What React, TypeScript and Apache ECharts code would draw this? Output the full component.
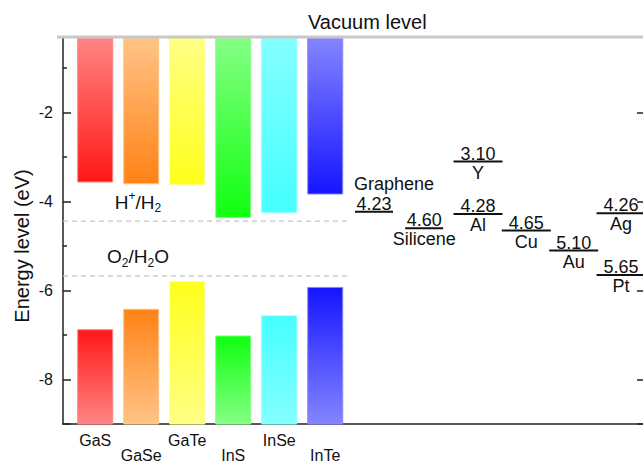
import React, { useEffect, useRef } from 'react';
import * as echarts from 'echarts';

// ---- data ----
const semiconductors = ['GaS', 'GaSe', 'GaTe', 'InS', 'InSe', 'InTe'];
const semiSlots = [1, 2, 3, 4, 5, 6];
const cbm = [-3.56, -3.6, -3.62, -4.36, -4.24, -3.83];
const vbm = [-6.88, -6.42, -5.8, -7.02, -6.57, -5.93];

const metals = ['Graphene', 'Silicene', 'Y', 'Al', 'Cu', 'Au', 'Ag', 'Pt'];
const workFunctions = [4.23, 4.6, 3.1, 4.28, 4.65, 5.1, 4.26, 5.65];
const metalSlots = [7.06, 8.15, 9.32, 9.32, 10.37, 11.4, 12.43, 12.43];

const redoxNames = ['H+/H2', 'O2/H2O'];
const redoxLevels = [-4.44, -5.67];
const redoxEndSlot = 6.5;
const redoxLabelSlot = 1.93;

const vacuumLevel = -0.3; // top of the energy axis
const bottomLevel = -9;
const xMin = 0.3;
const xMax = 12.95;

// ---- styles ----
const FONT = '"Liberation Sans", Arial, Helvetica, sans-serif';
const barColors: [string, string][] = [
  ['#ff1717', '#ff8585'],
  ['#ff8216', '#ffc487'],
  ['#ffff1c', '#ffff85'],
  ['#10ff10', '#85ff85'],
  ['#45ffff', '#85ffff'],
  ['#1515ff', '#8585ff'],
];
const narrowMetals = ['Graphene', 'Silicene'];

export default function App() {
  const ref = useRef<HTMLDivElement>(null);

  useEffect(() => {
    if (!ref.current) return;
    const chart = echarts.init(ref.current, undefined, { renderer: 'svg' });

    const bandSeries = {
      type: 'custom',
      z: 2,
      renderItem: (params: any, api: any) => {
        const i = params.dataIndex;
        const x = api.value(0);
        const c = api.value(1);
        const v = api.value(2);
        const [cx, yTop] = api.coord([x, vacuumLevel]);
        const yC = api.coord([x, c])[1];
        const yV = api.coord([x, v])[1];
        const yB = api.coord([x, bottomLevel])[1];
        const w = 35;
        const [sat, light] = barColors[i];
        return {
          type: 'group',
          children: [
            {
              type: 'rect',
              shape: { x: cx - w / 2, y: yTop, width: w, height: yC - yTop },
              style: {
                fill: new echarts.graphic.LinearGradient(0, 0, 0, 1, [
                  { offset: 0, color: light },
                  { offset: 1, color: sat },
                ]),
                stroke: light,
                lineWidth: 1,
              },
            },
            {
              type: 'rect',
              shape: { x: cx - w / 2, y: yV, width: w, height: yB - yV },
              style: {
                fill: new echarts.graphic.LinearGradient(0, 0, 0, 1, [
                  { offset: 0, color: sat },
                  { offset: 1, color: light },
                ]),
                stroke: light,
                lineWidth: 1,
              },
            },
            {
              type: 'text',
              x: cx,
              y: yB + (i % 2 === 0 ? 16 : 31),
              style: {
                text: semiconductors[i],
                align: 'center',
                verticalAlign: 'middle',
                fontSize: 16,
                fontFamily: FONT,
                fill: '#111',
              },
            },
          ],
        };
      },
      data: semiconductors.map((_, i) => [semiSlots[i], cbm[i], vbm[i]]),
      encode: { x: 0, y: [1, 2] },
    };

    const metalSeries = {
      type: 'custom',
      z: 3,
      renderItem: (params: any, api: any) => {
        const i = params.dataIndex;
        const x = api.value(0);
        const wf = api.value(1);
        const [cx, cy] = api.coord([x, -wf]);
        const name = metals[i];
        const half = narrowMetals.includes(name) ? 19 : 24.5;
        const nameAbove = name === 'Graphene';
        const ts = { fontSize: 18, fontFamily: FONT, fill: '#111', align: 'center', verticalAlign: 'middle' };
        return {
          type: 'group',
          children: [
            {
              type: 'line',
              shape: { x1: cx - half, y1: cy, x2: cx + half, y2: cy },
              style: { stroke: '#111', lineWidth: 2 },
            },
            { type: 'text', x: cx, y: cy - 8, style: { ...ts, text: wf.toFixed(2) } },
            {
              type: 'text',
              x: nameAbove ? cx + 20 : cx,
              y: nameAbove ? cy - 28 : cy + 11,
              style: { ...ts, text: name },
            },
          ],
        };
      },
      data: metals.map((_, i) => [metalSlots[i], workFunctions[i]]),
      encode: { x: 0, y: 1 },
    };

    const redoxRich = [
      '{n|H}{sup|+}{n|/H}{sub|2}',
      '{n|O}{sub|2}{n|/H}{sub|2}{n|O}',
    ];
    const redoxSeries = {
      type: 'custom',
      z: 1,
      renderItem: (params: any, api: any) => {
        const i = params.dataIndex;
        const lv = api.value(1);
        const [x0, y0] = api.coord([xMin, lv]);
        const x1 = api.coord([redoxEndSlot, lv])[0];
        const lx = api.coord([redoxLabelSlot, lv])[0];
        return {
          type: 'group',
          children: [
            {
              type: 'line',
              shape: { x1: x0, y1: y0, x2: x1, y2: y0 },
              style: { stroke: '#c4c4c4', lineWidth: 1.3, lineDash: [5, 4] },
            },
            {
              type: 'text',
              x: lx,
              y: y0 - 19,
              style: {
                text: redoxRich[i],
                align: 'center',
                verticalAlign: 'middle',
                fontFamily: FONT,
                fill: '#111',
                rich: {
                  n: { fontSize: 19, lineHeight: 24, fontFamily: FONT, fill: '#111' },
                  sup: { fontSize: 12, lineHeight: 24, verticalAlign: 'top', fontFamily: FONT, fill: '#111' },
                  sub: { fontSize: 12, lineHeight: 24, verticalAlign: 'bottom', fontFamily: FONT, fill: '#111' },
                },
              },
            },
          ],
        };
      },
      data: redoxNames.map((_, i) => [i, redoxLevels[i]]),
      encode: { x: 0, y: 1 },
    };

    const vacuumSeries = {
      type: 'custom',
      z: 6,
      renderItem: (_params: any, api: any) => {
        const lv = api.value(0);
        const [xa, ya] = api.coord([xMin, lv]);
        const xb = api.coord([xMax, lv])[0];
        return {
          type: 'line',
          shape: { x1: xa - 6, y1: ya, x2: xb, y2: ya },
          style: { stroke: '#c8c8c8', lineWidth: 3 },
        };
      },
      data: [[vacuumLevel]],
      encode: { y: 0 },
    };

    const yAxisBase = {
      type: 'value',
      min: bottomLevel,
      max: vacuumLevel,
      splitLine: { show: false },
    };

    chart.setOption({
      animation: false,
      textStyle: { fontFamily: FONT },
      graphic: [
        {
          type: 'text',
          left: 308,
          top: 12,
          style: { text: 'Vacuum level', fontSize: 20, fontFamily: FONT, fill: '#111' },
        },
        {
          type: 'text',
          x: 22,
          y: 246,
          rotation: Math.PI / 2,
          style: {
            text: 'Energy level (eV)',
            fontSize: 20,
            fontFamily: FONT,
            fill: '#111',
            align: 'center',
            verticalAlign: 'middle',
          },
        },
      ],
      grid: { left: 63, right: 15, top: 37, bottom: 38 },
      xAxis: {
        type: 'value',
        min: xMin,
        max: xMax,
        axisLine: { show: true, onZero: false, lineStyle: { color: '#222', width: 1.5 } },
        axisTick: { show: false },
        axisLabel: { show: false },
        splitLine: { show: false },
      },
      yAxis: [
        {
          ...yAxisBase,
          position: 'left',
          axisLine: { show: true, lineStyle: { color: '#222', width: 1.5 } },
          axisTick: { show: true, inside: true, length: 8, lineStyle: { color: '#222', width: 1.5 } },
          minorTick: { show: true, splitNumber: 2, length: 4, lineStyle: { color: '#222', width: 1.5 } },
          axisLabel: {
            show: true,
            fontSize: 16,
            color: '#111',
            margin: 10,
            showMinLabel: false,
            showMaxLabel: false,
            fontFamily: FONT,
          },
        },
        {
          ...yAxisBase,
          position: 'right',
          axisLine: { show: true, lineStyle: { color: '#222', width: 1.5 } },
          axisTick: { show: true, inside: true, length: 8, lineStyle: { color: '#222', width: 1.5 } },
          axisLabel: { show: false },
        },
      ],
      series: [redoxSeries, bandSeries, metalSeries, vacuumSeries],
    });

    return () => chart.dispose();
  }, []);

  return (
    <div
      style={{
        position: 'absolute',
        left: 0,
        top: 0,
        width: 643,
        height: 462,
        overflow: 'hidden',
        background: '#fff',
      }}
    >
      <div ref={ref} style={{ width: 660, height: 462 }} />
    </div>
  );
}
